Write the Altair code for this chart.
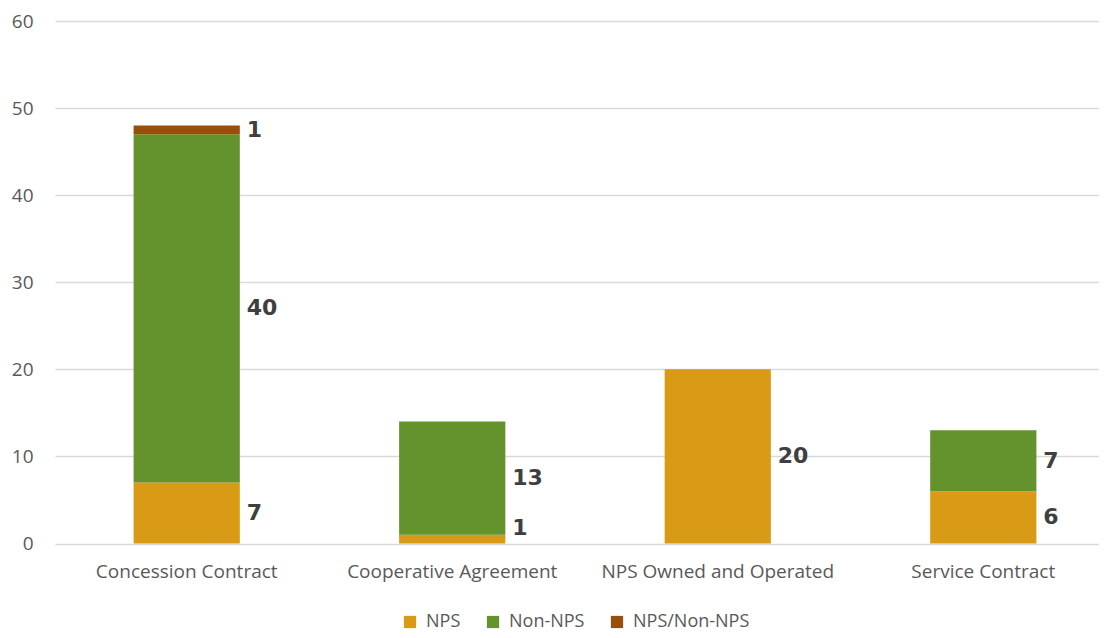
import altair as alt
import pandas as pd

categories = ["Concession Contract", "Cooperative Agreement", "NPS Owned and Operated", "Service Contract"]
series = ["NPS", "Non-NPS", "NPS/Non-NPS"]
nps = [7, 1, 20, 6]
non_nps = [40, 13, 0, 7]
mixed = [1, 0, 0, 0]
colors = ["#D99A16", "#64922C", "#974F0B"]

rows = []
for i, c in enumerate(categories):
    for s, vals in zip(series, [nps, non_nps, mixed]):
        rows.append({"category": c, "series": s, "value": vals[i], "order": series.index(s)})
df = pd.DataFrame(rows)

FONT = "Open Sans"
base = alt.Chart(df)

bars = base.mark_bar().encode(
    x=alt.X("category:N", sort=categories, title=None,
            scale=alt.Scale(range=[0, 1060], paddingInner=0.6, paddingOuter=0.296),
            axis=alt.Axis(labelAngle=0, labelFont=FONT, labelFontSize=19, labelLimit=400,
                          labelColor="#595959", ticks=False, domain=False, labelPadding=19)),
    y=alt.Y("value:Q", stack="zero", title=None,
            scale=alt.Scale(domain=[0, 60]),
            axis=alt.Axis(values=[0, 10, 20, 30, 40, 50, 60], labelFont=FONT, labelFontSize=19,
                          labelColor="#595959", ticks=False, domain=False, labelPadding=22,
                          gridColor="#D9D9D9", gridWidth=1.5)),
    color=alt.Color("series:N", sort=series,
                    scale=alt.Scale(domain=series, range=colors),
                    legend=alt.Legend(title=None, orient="none", direction="horizontal",
                                      legendX=346, legendY=592,
                                      symbolType="square", symbolSize=150, symbolStrokeWidth=0,
                                      symbolOffset=0, labelOffset=7,
                                      labelFont=FONT, labelFontSize=18, labelColor="#595959",
                                      columnPadding=23)),
    order=alt.Order("order:Q"),
)

labels = base.transform_filter(alt.datum.value > 0).transform_stack(
    stack="value", groupby=["category"], as_=["v0", "v1"], sort=[alt.SortField("order")]
).transform_calculate(
    mid="max((datum.v0 + datum.v1) / 2, 1.8)"
).mark_text(align="left", baseline="middle", dx=60, font="DejaVu Sans", fontWeight="bold",
            fontSize=22, color="#3F3F3F").encode(
    x=alt.X("category:N", sort=categories),
    y=alt.Y("mid:Q"),
    text=alt.Text("value:Q"),
)

chart = alt.layer(bars, labels).properties(
    width=1044, height=522.5,
    autosize=alt.AutoSizeParams(type="none"),
    padding={"left": 47, "top": 13, "right": 0, "bottom": 92},
).configure_view(stroke=None)

chart.save("out.html", embed_options={"renderer": "svg", "actions": False})
